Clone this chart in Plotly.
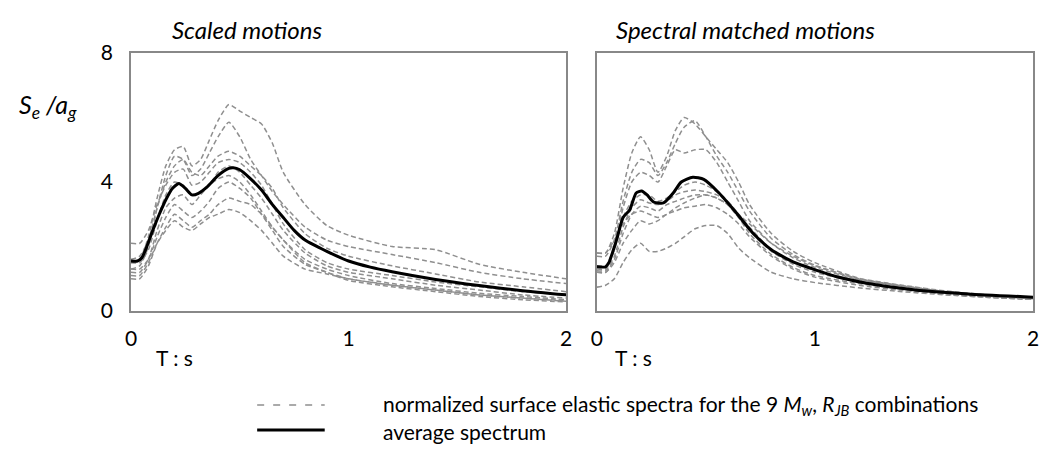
import plotly.graph_objects as go

# Period grid (s)
T = [0, 0.04, 0.08, 0.12, 0.16, 0.2, 0.24, 0.28, 0.32, 0.36, 0.4, 0.45, 0.5,
     0.55, 0.6, 0.65, 0.7, 0.8, 0.9, 1.0, 1.2, 1.4, 1.6, 1.8, 2.0]

# Scaled motions: 9 normalized spectra
scaled_1 = [1.5, 1.6, 2.3, 3.5, 4.5, 5.0, 5.1, 4.5, 4.7, 5.3, 5.9, 6.4, 6.2, 6.0, 5.8, 5.2, 4.3, 3.3, 2.65, 2.35, 2.0, 1.9, 1.45, 1.2, 1.0]
scaled_2 = [1.3, 1.4, 2.0, 3.2, 4.2, 4.8, 4.7, 4.2, 4.4, 4.9, 5.4, 5.85, 5.4, 4.7, 4.2, 3.7, 3.3, 2.6, 2.2, 2.0, 1.75, 1.5, 1.2, 1.0, 0.85]
scaled_3 = [1.6, 1.7, 2.2, 3.2, 4.0, 4.5, 4.7, 4.3, 4.2, 4.5, 4.8, 4.95, 4.8, 4.5, 4.2, 3.8, 3.2, 2.4, 1.95, 1.7, 1.4, 1.15, 0.9, 0.75, 0.6]
scaled_4 = [2.1, 2.1, 2.5, 3.3, 3.9, 4.3, 4.4, 3.9, 4.0, 4.3, 4.6, 4.7, 4.6, 4.3, 3.9, 3.3, 2.7, 1.9, 1.5, 1.3, 1.1, 0.9, 0.75, 0.6, 0.5]
scaled_5 = [1.5, 1.5, 1.9, 2.8, 3.6, 4.0, 3.9, 3.6, 3.7, 3.9, 4.3, 4.5, 4.3, 3.9, 3.5, 3.0, 2.5, 1.8, 1.4, 1.2, 1.0, 0.8, 0.65, 0.5, 0.4]
scaled_6 = [1.2, 1.2, 1.6, 2.5, 3.2, 3.5, 3.6, 3.3, 3.6, 3.9, 4.1, 4.2, 4.0, 3.6, 3.1, 2.6, 2.2, 1.6, 1.3, 1.1, 0.85, 0.7, 0.55, 0.45, 0.35]
scaled_7 = [1.3, 1.3, 1.6, 2.3, 2.9, 3.3, 3.1, 2.9, 3.1, 3.4, 3.8, 4.0, 3.8, 3.5, 3.0, 2.5, 2.0, 1.45, 1.2, 1.0, 0.8, 0.65, 0.5, 0.4, 0.32]
scaled_8 = [1.0, 1.0, 1.4, 2.1, 2.6, 3.0, 2.8, 2.6, 2.8, 3.0, 3.3, 3.5, 3.4, 3.3, 3.0, 2.6, 2.2, 1.5, 1.2, 0.95, 0.75, 0.6, 0.45, 0.35, 0.28]
scaled_9 = [1.1, 1.1, 1.5, 2.1, 2.5, 2.8, 2.6, 2.5, 2.7, 2.9, 3.0, 3.15, 3.05, 2.8, 2.5, 2.1, 1.7, 1.3, 1.15, 1.0, 0.8, 0.65, 0.5, 0.4, 0.3]

# Scaled motions: average spectrum
T_avg_scaled = [0, 0.03, 0.05, 0.07, 0.1, 0.13, 0.16, 0.19, 0.22, 0.25, 0.28, 0.31, 0.35, 0.4, 0.45,
                0.47, 0.5, 0.55, 0.6, 0.65, 0.7, 0.75, 0.8, 0.9, 1.0, 1.1, 1.2, 1.4, 1.6, 1.8, 2.0]
avg_scaled = [1.55, 1.55, 1.65, 1.95, 2.5, 3.0, 3.45, 3.8, 3.95, 3.8, 3.6, 3.65, 3.85, 4.2, 4.42,
              4.44, 4.38, 4.1, 3.75, 3.3, 2.9, 2.5, 2.2, 1.85, 1.55, 1.36, 1.22, 0.98, 0.79, 0.63, 0.5]

# Spectral matched motions: 9 normalized spectra
matched_1 = [1.8, 1.8, 2.4, 3.8, 4.9, 5.4, 5.0, 4.3, 4.8, 5.6, 6.0, 5.8, 5.4, 5.0, 4.6, 4.0, 3.3, 2.4, 1.85, 1.5, 1.02, 0.8, 0.62, 0.5, 0.42]
matched_2 = [1.7, 1.7, 2.2, 3.4, 4.3, 4.7, 4.6, 4.2, 4.6, 5.2, 5.7, 5.9, 5.4, 4.8, 4.3, 3.7, 3.1, 2.25, 1.75, 1.42, 1.0, 0.78, 0.6, 0.49, 0.41]
matched_3 = [1.4, 1.4, 2.0, 3.2, 4.0, 4.3, 4.2, 4.0, 4.5, 5.0, 4.9, 5.0, 5.0, 4.6, 4.0, 3.4, 2.8, 2.1, 1.65, 1.35, 0.98, 0.77, 0.6, 0.49, 0.41]
matched_4 = [1.3, 1.3, 1.9, 2.9, 3.4, 3.6, 3.6, 3.4, 3.5, 3.7, 3.9, 4.0, 3.9, 3.7, 3.4, 3.0, 2.7, 2.1, 1.7, 1.4, 1.0, 0.78, 0.6, 0.48, 0.4]
matched_5 = [1.25, 1.25, 1.7, 2.6, 3.2, 3.45, 3.35, 3.3, 3.4, 3.6, 3.7, 3.75, 3.7, 3.6, 3.4, 3.0, 2.6, 1.9, 1.5, 1.25, 0.95, 0.75, 0.58, 0.46, 0.38]
matched_6 = [1.2, 1.2, 1.6, 2.4, 3.0, 3.25, 3.2, 3.1, 3.3, 3.4, 3.5, 3.6, 3.6, 3.5, 3.3, 2.9, 2.5, 1.85, 1.45, 1.2, 0.9, 0.7, 0.55, 0.44, 0.36]
matched_7 = [1.8, 1.8, 2.2, 2.7, 3.0, 3.1, 3.0, 2.9, 3.0, 3.2, 3.35, 3.5, 3.6, 3.5, 3.3, 2.9, 2.4, 1.75, 1.35, 1.1, 0.85, 0.68, 0.55, 0.45, 0.38]
matched_8 = [1.2, 1.2, 1.5, 2.1, 2.5, 2.8, 2.7, 2.8, 3.0, 3.1, 3.2, 3.25, 3.3, 3.2, 3.0, 2.7, 2.3, 1.7, 1.3, 1.05, 0.8, 0.64, 0.52, 0.42, 0.36]
matched_9 = [0.74, 0.8, 1.0, 1.5, 1.9, 2.1, 1.85, 1.85, 1.95, 2.1, 2.3, 2.55, 2.65, 2.65, 2.4, 1.95, 1.65, 1.2, 1.0, 0.88, 0.72, 0.6, 0.5, 0.42, 0.36]

# Spectral matched motions: average spectrum
T_avg_matched = [0, 0.04, 0.055, 0.09, 0.12, 0.15, 0.18, 0.205, 0.23, 0.26, 0.305, 0.35, 0.387, 0.44,
                 0.49, 0.56, 0.64, 0.715, 0.8, 0.9, 1.0, 1.1, 1.23, 1.46, 1.7, 2.0]
avg_matched = [1.37, 1.37, 1.5, 2.2, 2.9, 3.13, 3.66, 3.72, 3.6, 3.38, 3.35, 3.66, 4.0, 4.15,
               4.08, 3.66, 3.04, 2.42, 1.9, 1.52, 1.28, 1.06, 0.87, 0.65, 0.53, 0.43]

x_ticks = [0, 1, 2]
y_ticks = [0, 4, 8]

scaled = [scaled_1, scaled_2, scaled_3, scaled_4, scaled_5, scaled_6, scaled_7, scaled_8, scaled_9]
matched = [matched_1, matched_2, matched_3, matched_4, matched_5, matched_6, matched_7, matched_8, matched_9]

DASH_COLOR = "#8f8f8f"
FONT = "Lato"

# plot-area geometry in pixels (used to place paper-referenced text)
L, R, TOP, BOT = 131, 1039, 53, 311


def px(xp):
    return (xp - L) / (R - L)


def py(yp):
    return (BOT - yp) / (BOT - TOP)


fig = go.Figure()

for xa, ya, curves, tav, av in [("x", "y", scaled, T_avg_scaled, avg_scaled),
                                ("x2", "y2", matched, T_avg_matched, avg_matched)]:
    for c in curves:
        fig.add_trace(go.Scatter(x=T, y=c, mode="lines", xaxis=xa, yaxis=ya,
                                 line=dict(color=DASH_COLOR, width=1.5, dash="5px,3px", shape="spline", smoothing=0.6),
                                 showlegend=False, hoverinfo="skip"))
    fig.add_trace(go.Scatter(x=tav, y=av, mode="lines", xaxis=xa, yaxis=ya,
                             line=dict(color="black", width=3, shape="spline", smoothing=0.6),
                             showlegend=False, hoverinfo="skip"))

axis_common = dict(showgrid=False, zeroline=False, showline=True, linecolor="#888888",
                   linewidth=1.5, mirror=True, ticks="",
                   tickfont=dict(family=FONT, size=21, color="black"))

fig.update_layout(
    width=1046, height=466,
    margin=dict(l=L, r=1046 - R, t=TOP, b=466 - BOT),
    paper_bgcolor="white", plot_bgcolor="white",
    showlegend=False,
    xaxis=dict(domain=[0, (569 - L) / (R - L)], range=[0, 2], tickvals=x_ticks, ticklabelstandoff=8, **axis_common),
    yaxis=dict(range=[0, 8], tickvals=y_ticks, ticklabelstandoff=12, **axis_common),
    xaxis2=dict(domain=[(600 - L) / (R - L), 1], range=[0, 2], tickvals=x_ticks, ticklabelstandoff=8, **axis_common),
    yaxis2=dict(range=[0, 8], tickvals=y_ticks, showticklabels=False, anchor="x2", **axis_common),
)

ann_font = dict(family=FONT, size=21, color="black")
annotations = [
    dict(text="<i>Scaled motions</i>", x=248, y=29, font=dict(family=FONT, size=24, color="black")),
    dict(text="<i>Spectral matched motions</i>", x=750, y=29, font=dict(family=FONT, size=24, color="black")),
    dict(text="<i>S<sub>e</sub> /a<sub>g</sub></i>", x=47, y=106, font=dict(family=FONT, size=25, color="black")),
    dict(text="T : s", x=175, y=357, font=ann_font),
    dict(text="T : s", x=637, y=357, font=ann_font),
]
for a in annotations:
    fig.add_annotation(text=a["text"], x=px(a["x"]), y=py(a["y"]), xref="paper", yref="paper",
                       xanchor="center", yanchor="middle", showarrow=False, font=a["font"])

# legend (drawn manually below the plots)
legend_font = dict(family=FONT, size=21, color="black")
fig.add_annotation(text="normalized surface elastic spectra for the 9 <i>M<sub>w</sub></i>, <i>R<sub>JB</sub></i> combinations",
                   x=px(383), y=py(405), xref="paper", yref="paper", xanchor="left", yanchor="middle",
                   showarrow=False, font=legend_font)
fig.add_annotation(text="average spectrum", x=px(383), y=py(431), xref="paper", yref="paper",
                   xanchor="left", yanchor="middle", showarrow=False, font=legend_font)
fig.add_shape(type="line", xref="paper", yref="paper", x0=px(258), x1=px(326),
              y0=py(405), y1=py(405), line=dict(color=DASH_COLOR, width=1.5, dash="7px,9px"))
fig.add_shape(type="line", xref="paper", yref="paper", x0=px(258), x1=px(326),
              y0=py(430), y1=py(430), line=dict(color="black", width=3))

fig.write_html("out.html")
